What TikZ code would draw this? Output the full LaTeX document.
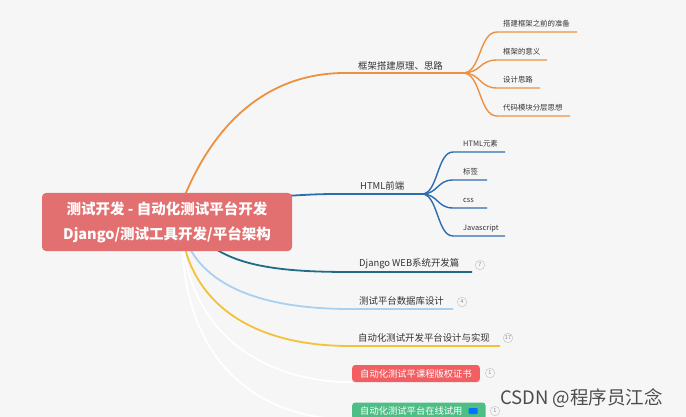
\documentclass[tikz,border=0pt]{standalone}
\usepackage{fontspec}
\setmainfont{Noto Sans CJK SC}
\definecolor{bgc}{HTML}{F6F6F6}
\definecolor{rootc}{HTML}{E37070}
\definecolor{orc}{HTML}{EC9140}
\definecolor{blc}{HTML}{2D6DAE}
\definecolor{tlc}{HTML}{1F6C86}
\definecolor{lbc}{HTML}{A9D0F2}
\definecolor{ylc}{HTML}{F3C23A}
\definecolor{redc}{HTML}{F25E62}
\definecolor{grc}{HTML}{4FBE86}
\definecolor{txc}{HTML}{333333}
\pgfdeclarelayer{canvas}
\pgfdeclarelayer{back}
\pgfsetlayers{canvas,back,main}
\tikzset{
  rootbox/.style={fill=rootc, rounded corners=4pt, minimum width=250pt, minimum height=58pt,
    align=center, text=white, inner sep=0pt, font=\bfseries\fontsize{14.5}{25}\selectfont},
  lbl/.style={anchor=west, inner sep=0pt, text=txc, font=\fontsize{9.4}{11}\selectfont},
  sublbl/.style={anchor=west, inner sep=0pt, text=txc, font=\fontsize{7.4}{9}\selectfont},
  tagbox/.style={anchor=west, inner xsep=8pt, inner ysep=0pt, rounded corners=3pt, minimum height=17pt,
    text=white, font=\fontsize{9.3}{11}\selectfont},
  badge/.style={circle, draw=gray!45, line width=0.5pt, minimum size=9.5pt, inner sep=0pt,
    text=gray!90, font=\fontsize{5.5}{6}\selectfont},
  mainline/.style={line width=1.8pt},
  subline/.style={line width=1.4pt},
}
\begin{document}
\begin{tikzpicture}[x=1pt,y=-1pt]
\begin{pgfonlayer}{canvas}
\fill[bgc] (0,0) rectangle (686,417);
\end{pgfonlayer}
\useasboundingbox (0,0) rectangle (686,417);

% root
\node[rootbox] (root) at (167,222) {测试开发 - 自动化测试平台开发\\Django/测试工具开发/平台架构};

% start points
\coordinate (s1) at (183,200);
\coordinate (s2) at (285,196);
\coordinate (s3) at (210,245);
\coordinate (s4) at (188,245);
\coordinate (s5) at (184,245);
\coordinate (s6) at (183,245);
\coordinate (s7) at (182,245);

% branch labels and junctions
\node[lbl] (b1) at (358,66) {框架搭建原理、思路};
\coordinate (j1) at (463,73);
\node[lbl] (b2) at (360,186) {HTML前端};
\coordinate (j2) at (422,194);
\node[lbl] (b3) at (359,264) {Django WEB系统开发篇};
\coordinate (e3) at (472,272);
\node[badge] (n3) at (480,265) {7};
\node[lbl] (b4) at (359,301) {测试平台数据库设计};
\coordinate (e4) at (453,309);
\node[badge] (n4) at (462,302) {4};
\node[lbl] (b5) at (358,338) {自动化测试开发平台设计与实现};
\coordinate (e5) at (500,346);
\node[badge] (n5) at (508,338) {17};

\node[tagbox, fill=redc] (b6) at (352,373.5) {自动化测试平课程版权证书};
\node[badge] (n6) at (490,373) {1};
\node[tagbox, fill=grc] (b7) at (352,411) {自动化测试平台在线试用\kern15pt};
\fill[blue!55!cyan, rounded corners=0.8pt] ([xshift=-17pt,yshift=-3pt]b7.east) rectangle ([xshift=-8pt,yshift=3pt]b7.east);
\node[badge] (n7) at (495,411) {1};

% children labels
\node[sublbl] (c11) at (503,24) {搭建框架之前的准备};
\node[sublbl] (c12) at (503,52) {框架的意义};
\node[sublbl] (c13) at (503,80) {设计思路};
\node[sublbl] (c14) at (503,108) {代码模块分层思想};
\node[sublbl] (c21) at (463,144) {HTML元素};
\node[sublbl] (c22) at (463,172) {标签};
\node[sublbl] (c23) at (463,200) {css};
\node[sublbl] (c24) at (463,228) {Javascript};

\begin{pgfonlayer}{back}
% main branches
\draw[orc, mainline] (s1) .. controls (215,120) and (270,73) .. (345,73) -- (j1);
\draw[blc, mainline] (s2) .. controls (320,194) .. (352,194) -- (j2);
\draw[tlc, mainline] (s3) .. controls (240,268) and (290,272) .. (350,272) -- (e3);
\draw[lbc, mainline] (s4) .. controls (210,290) and (270,309) .. (350,309) -- (e4);
\draw[ylc, mainline] (s5) .. controls (200,310) and (260,346) .. (350,346) -- (e5);
\draw[white, mainline] (s6) .. controls (195,340) and (270,382) .. (b6.south west);
\draw[white, mainline] (s7) .. controls (188,375) and (270,419.5) .. (b7.south west);

% orange children
\foreach \yc/\xe in {32/577, 60/547, 88/540, 116/570}{
  \draw[orc, subline] (j1) .. controls (481,73) and (479,\yc) .. (497,\yc) -- (\xe,\yc);
}
% blue children
\foreach \yc/\xe in {152/505, 180/487, 208/487, 236/505}{
  \draw[blc, subline] (j2) .. controls (438,194) and (437,\yc) .. (453,\yc) -- (\xe,\yc);
}
\end{pgfonlayer}

% watermark
\node[anchor=west, inner sep=0pt, text=black!70, font=\fontsize{18.5}{20}\selectfont] (wm) at (500,398) {CSDN @程序员江念};
\end{tikzpicture}
\end{document}
